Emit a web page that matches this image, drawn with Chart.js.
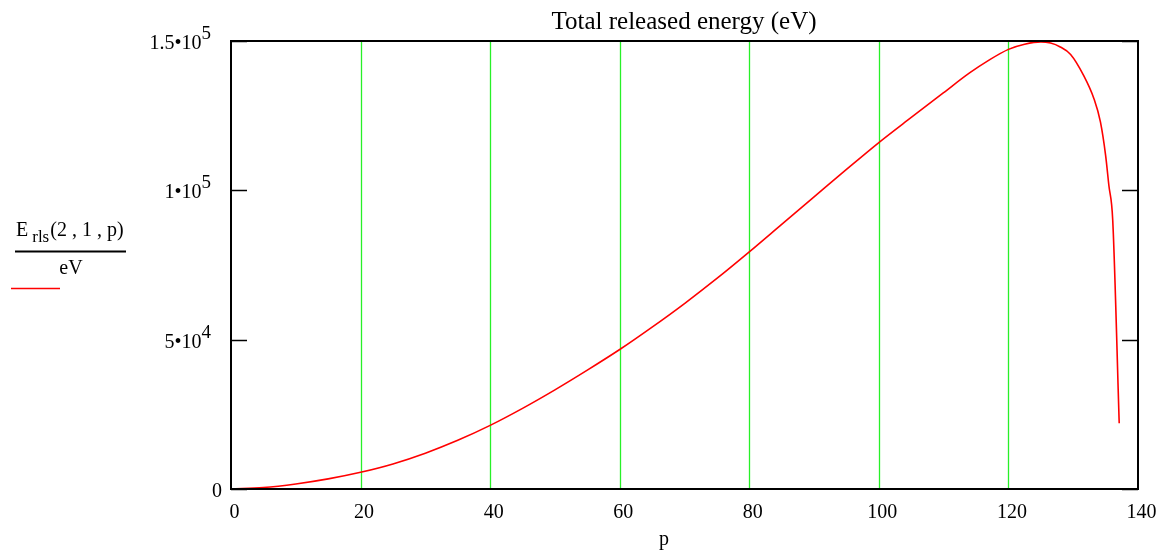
<!DOCTYPE html>
<html>
<head>
<meta charset="utf-8">
<script src="https://cdn.jsdelivr.net/npm/chart.js@4/dist/chart.umd.min.js"></script>
<style>
  html, body { margin: 0; padding: 0; background: #ffffff; }
  #wrap { width: 1175px; height: 554px; }
</style>
</head>
<body>
<div id="wrap"><canvas id="c" width="1175" height="554"></canvas></div>
<script>
// ---- data ----
const pValues = [0, 5, 10, 15, 20, 25, 30, 35, 40, 45, 50, 55, 60, 65, 70, 75, 80, 85, 90, 95, 100,
  105, 110, 114, 117, 120, 122.5, 125, 126.5, 128, 129.6, 131.6, 133.2, 134.2, 135, 135.5, 136.1, 137.1];
const energyValues = [0, 500, 1700, 3400, 5600, 8400, 12000, 16300, 21300, 27000, 33200, 39800, 46700,
  54200, 62100, 70500, 79400, 88600, 97800, 107000, 116000, 124400, 132700, 139300, 143600, 147200,
  148900, 149700, 149300, 148000, 145500, 138500, 130700, 122900, 111700, 101700, 90000, 22000];
const xGridValues = [20, 40, 60, 80, 100, 120];
const xTickValues = [0, 20, 40, 60, 80, 100, 120, 140];
const xTickLabels = ["0", "20", "40", "60", "80", "100", "120", "140"];
const yTickValues = [0, 50000, 100000, 150000];
const yTickBase = ["0", "5\u202210", "1\u202210", "1.5\u202210"];
const yTickExp = ["", "4", "5", "5"];
const titleText = "Total released energy (eV)";
const xAxisLabel = "p";
const legendMain = "E";
const legendSub = "rls";
const legendArgs = "(2 , 1 , p)";
const legendDenom = "eV";

const SERIF = "'Liberation Serif', 'DejaVu Serif', serif";

const decorPlugin = {
  id: 'decor',
  beforeDatasetsDraw(chart) {
    const ctx = chart.ctx, a = chart.chartArea, xs = chart.scales.x;
    ctx.save();
    ctx.strokeStyle = 'rgb(40,240,40)';
    ctx.lineWidth = 1.3;
    xGridValues.forEach(v => {
      const px = Math.round(xs.getPixelForValue(v)) + 0.5;
      ctx.beginPath(); ctx.moveTo(px, a.top); ctx.lineTo(px, a.bottom); ctx.stroke();
    });
    ctx.restore();
  },
  afterDatasetsDraw(chart) {
    const ctx = chart.ctx, a = chart.chartArea, xs = chart.scales.x, ys = chart.scales.y;
    ctx.save();
    // frame
    ctx.strokeStyle = '#000';
    ctx.lineWidth = 2;
    ctx.strokeRect(a.left, a.top, a.right - a.left, a.bottom - a.top);
    // y ticks inward on both sides
    ctx.lineWidth = 1.5;
    yTickValues.forEach(v => {
      const py = Math.round(ys.getPixelForValue(v)) + 0.5;
      ctx.beginPath(); ctx.moveTo(a.left, py); ctx.lineTo(a.left + 16, py); ctx.stroke();
      ctx.beginPath(); ctx.moveTo(a.right - 16, py); ctx.lineTo(a.right, py); ctx.stroke();
    });
    // y tick labels
    ctx.fillStyle = '#000';
    ctx.textBaseline = 'alphabetic';
    yTickValues.forEach((v, i) => {
      const py = ys.getPixelForValue(v);
      const base = yTickBase[i], exp = yTickExp[i];
      ctx.font = '20px ' + SERIF;
      const bw = ctx.measureText(base).width;
      if (exp) {
        ctx.font = '19px ' + SERIF;
        const ew = ctx.measureText(exp).width;
        const right = a.left - 20;
        ctx.textAlign = 'left';
        ctx.fillText(exp, right - ew, py - 2);
        ctx.font = '20px ' + SERIF;
        ctx.fillText(base, right - ew - bw, py + 8);
      } else {
        ctx.textAlign = 'right';
        ctx.fillText(base, a.left - 9, py + 8);
      }
    });
    // x tick labels
    ctx.font = '20px ' + SERIF;
    ctx.textAlign = 'center';
    xTickValues.forEach((v, i) => {
      ctx.fillText(xTickLabels[i], xs.getPixelForValue(v) + 3.5, a.bottom + 29);
    });
    // title
    ctx.font = '25px ' + SERIF;
    ctx.fillText(titleText, 684, 29);
    // x axis label
    ctx.font = '20px ' + SERIF;
    ctx.fillText(xAxisLabel, 664, 545);
    // legend: E_rls(2,1,p) / eV
    ctx.textAlign = 'left';
    ctx.font = '20px ' + SERIF;
    let x = 16;
    ctx.fillText(legendMain, x, 236);
    x += ctx.measureText(legendMain).width + 4;
    ctx.font = '17px ' + SERIF;
    ctx.fillText(legendSub, x, 242);
    x += ctx.measureText(legendSub).width + 1;
    ctx.font = '20px ' + SERIF;
    ctx.fillText(legendArgs, x, 236);
    ctx.lineWidth = 2;
    ctx.beginPath(); ctx.moveTo(15, 251.5); ctx.lineTo(126, 251.5); ctx.stroke();
    ctx.textAlign = 'center';
    ctx.fillText(legendDenom, 71, 274);
    ctx.strokeStyle = '#ff0000';
    ctx.lineWidth = 1.5;
    ctx.beginPath(); ctx.moveTo(11, 288.5); ctx.lineTo(60, 288.5); ctx.stroke();
    ctx.restore();
  }
};

new Chart(document.getElementById('c'), {
  type: 'line',
  data: {
    datasets: [{
      data: pValues.map((p, i) => ({ x: p, y: energyValues[i] })),
      borderColor: '#ff0000',
      borderWidth: 1.6,
      pointRadius: 0,
      fill: false,
      cubicInterpolationMode: 'monotone'
    }]
  },
  options: {
    responsive: false,
    devicePixelRatio: 1,
    animation: false,
    layout: { padding: { left: 231, right: 37, top: 41, bottom: 65 } },
    plugins: { legend: { display: false }, tooltip: { enabled: false } },
    scales: {
      x: { type: 'linear', min: 0, max: 140, display: false },
      y: { type: 'linear', min: 0, max: 150000, display: false }
    }
  },
  plugins: [decorPlugin]
});
</script>
</body>
</html>
